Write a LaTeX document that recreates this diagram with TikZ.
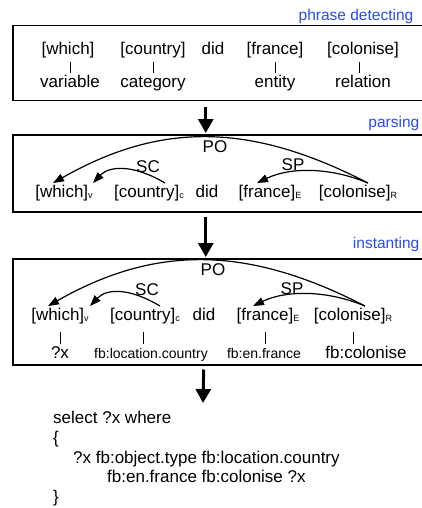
\documentclass[tikz,border=0pt]{standalone}
\usepackage{fontspec}
\setmainfont{Liberation Sans}
\usepackage{xcolor}
\usepackage{tikz}
\usetikzlibrary{positioning, arrows.meta}
\definecolor{stageblue}{RGB}{40,75,245}
\newcommand{\wordfont}{\fontsize{17}{19.8}\selectfont}
\newcommand{\fbfont}{\fontsize{14}{17}\selectfont}
\newcommand{\phasefont}{\fontsize{15.5}{18}\selectfont}
\newcommand{\wsub}[1]{\raisebox{-1.5pt}{\fontsize{9}{9}\selectfont #1}}
\tikzstyle{stage} = [rectangle, draw, line width=1.5pt, anchor=north west,
    minimum width=412pt]
\tikzstyle{phase} = [font=\phasefont, text=stageblue, anchor=base east, inner sep=0pt]
\tikzstyle{word} = [font=\wordfont, inner sep=2pt, text height=12pt, text depth=3.5pt]
\tikzstyle{fbword} = [word, font=\fbfont]
\tikzstyle{arclabel} = [font=\wordfont, inner sep=0pt]
\tikzstyle{link} = [draw, line width=1pt]
\tikzstyle{rel} = [draw, line width=1.2pt, -{Triangle[length=11pt, width=8pt]}]
\tikzstyle{bigarrow} = [draw, line width=3pt, -{Triangle[length=14pt, width=15pt]}]

\begin{document}
\begin{tikzpicture}[x=1pt, y=-1pt, node distance=85pt]
      \useasboundingbox (0,0) rectangle (421,508);
      % Stage boxes
      \node [stage, minimum height=75pt] (detect) at (12,25) {};
      \node [stage, minimum height=77pt] (parse) at (12,134) {};
      \node [stage, minimum height=106pt] (inst) at (12,258) {};
      \node [phase] (detectlbl) at ([xshift=-12pt, yshift=4.5pt]detect.north east) {phrase detecting};
      \node [phase] (parselbl) at ([xshift=-6pt, yshift=6pt]parse.north east) {parsing};
      \node [phase] (instlbl) at ([xshift=-6pt, yshift=9.5pt]inst.north east) {instanting};
      % Phrase detecting
      \node [word] (which1) at (68,50) {[which]};
      \node [word, right of=which1] (country1) {[country]};
      \node [word, right of=country1, node distance=60pt] (did1) {did};
      \node [word, right of=did1, node distance=62pt] (france1) {[france]};
      \node [word, right of=france1, node distance=88pt] (colonise1) {[colonise]};
      \node [word, below of=which1, node distance=33pt, xshift=2pt] (variable) {variable};
      \node [word, below of=country1, node distance=33pt] (category) {category};
      \node [word, below of=france1, node distance=33pt] (entity) {entity};
      \node [word, below of=colonise1, node distance=33pt] (relation) {relation};
      \path [link, shorten <=2pt] (variable.north |- which1.south) -- (variable.north);
      \path [link, shorten <=2pt] (country1) -- (category);
      \path [link, shorten <=2pt] (france1) -- (entity);
      \path [link, shorten <=2pt] ([xshift=-4pt]colonise1.south) -- ([xshift=-4pt]relation.north);
      % Parsing
      \node [word] (which2) at (64,193) {[which]\wsub{v}};
      \node [word, right of=which2] (country2) {[country]\wsub{c}};
      \node [word, right of=country2, node distance=58pt] (did2) {did};
      \node [word, right of=did2, node distance=63pt] (france2) {[france]\wsub{E}};
      \node [word, right of=france2, node distance=88pt] (colonise2) {[colonise]\wsub{R}};
      \path [rel] ([xshift=10pt]colonise2.north) .. controls +(-118,-61) and +(107,-61) .. ([xshift=-11pt]which2.north);
      \path [rel] ([xshift=16pt]country2.north) .. controls +(-30,-18) and +(17,-18) .. ([xshift=29pt]which2.north);
      \path [rel] ([xshift=10pt]colonise2.north) .. controls +(-38,-16) and +(33,-16) .. ([xshift=-13pt]france2.north);
      \node [arclabel] (po2) at (215,147) {PO};
      \node [arclabel] (sc2) at (148,167) {SC};
      \node [arclabel] (sp2) at (293,165) {SP};
      % Instanting
      \node [word] (which3) at (60,316) {[which]\wsub{v}};
      \node [word, right of=which3] (country3) {[country]\wsub{c}};
      \node [word, right of=country3, node distance=59pt] (did3) {did};
      \node [word, right of=did3, node distance=64pt] (france3) {[france]\wsub{E}};
      \node [word, right of=france3, node distance=85pt] (colonise3) {[colonise]\wsub{R}};
      \node [word, below of=which3, node distance=38pt] (qx) {?x};
      \node [fbword, below of=country3, node distance=38pt, xshift=6pt] (fbcountry) {fb:location.country};
      \node [fbword, below of=france3, node distance=38pt, xshift=-4pt] (fbfrance) {fb:en.france};
      \node [word, below of=colonise3, node distance=38pt, xshift=13pt] (fbcolonise) {fb:colonise};
      \path [link, shorten <=6pt] (which3.south) -- (qx.north);
      \path [link, shorten <=6pt] ([xshift=-2pt]country3.south) -- ([xshift=-2pt]country3.south |- fbcountry.north);
      \path [link, shorten <=6pt] ([xshift=-3pt]france3.south) -- ([xshift=-3pt]france3.south |- fbfrance.north);
      \path [link, shorten <=6pt] (colonise3.south) -- (colonise3.south |- fbcolonise.north);
      \path [rel] ([xshift=12pt]colonise3.north) .. controls +(-118,-61) and +(107,-61) .. ([xshift=-12pt]which3.north);
      \path [rel] ([xshift=15pt]country3.north) .. controls +(-30,-18) and +(17,-18) .. ([xshift=30pt]which3.north);
      \path [rel] ([xshift=12pt]colonise3.north) .. controls +(-38,-16) and +(33,-16) .. ([xshift=-15pt]france3.north);
      \node [arclabel] (po3) at (213,270) {PO};
      \node [arclabel] (sc3) at (147,290) {SC};
      \node [arclabel] (sp3) at (292,289) {SP};
      % Query
      \node [anchor=north west, inner sep=0pt, font=\wordfont, align=left] (query) at (53,411)
        {select ?x where\\ \{\\ \hspace*{20pt}?x fb:object.type fb:location.country\\
         \hspace*{54pt}fb:en.france fb:colonise ?x\\ \}};
      \coordinate (qtip) at (203,403);
      % Stage arrows
      \path [bigarrow, shorten <=6pt, shorten >=1pt] ([xshift=-13pt]detect.south) -- ([xshift=-13pt]parse.north);
      \path [bigarrow, shorten <=4pt, shorten >=1pt] ([xshift=-13pt]parse.south) -- ([xshift=-13pt]inst.north);
      \path [bigarrow, shorten <=4pt] ([xshift=-15pt]inst.south) -- (qtip);
  \end{tikzpicture}
\end{document}
